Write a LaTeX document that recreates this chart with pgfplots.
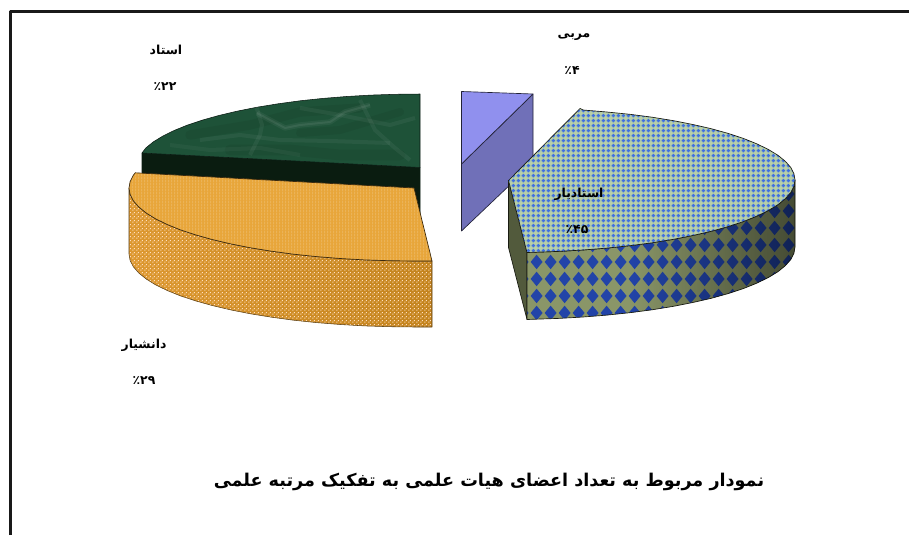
\documentclass[border=0pt]{standalone}
\usepackage{fontspec}
\usepackage{pgfplots}
\usepackage{pgfplotstable}
\pgfplotsset{compat=1.18}
\usetikzlibrary{patterns,fadings}
\TeXXeTstate=1
\newfontfamily\arabicfont[Script=Arabic,BoldFont={DejaVu Sans Bold}]{DejaVu Sans}
\definecolor{gtop}{HTML}{1E5238}
\definecolor{gside}{HTML}{0A1C10}
\definecolor{otop}{HTML}{E8A63A}
\definecolor{oside}{HTML}{DD9830}
\definecolor{osideb}{HTML}{C4841E}
\definecolor{ptop}{HTML}{9090EE}
\definecolor{pside}{HTML}{7070B8}
\definecolor{btop}{HTML}{B8D0A8}
\definecolor{bdot}{HTML}{4070E0}
\definecolor{bside}{HTML}{8A9668}
\definecolor{bdiam}{HTML}{2244A8}
\definecolor{bface}{HTML}{525A3C}
\pgfdeclarepatternformonly{dmd}{\pgfpointorigin}{\pgfqpoint{10.2pt}{12.4pt}}{\pgfqpoint{10.2pt}{12.4pt}}{%
  \pgfpathmoveto{\pgfqpoint{5.1pt}{0.6pt}}\pgfpathlineto{\pgfqpoint{9.7pt}{6.2pt}}%
  \pgfpathlineto{\pgfqpoint{5.1pt}{11.8pt}}\pgfpathlineto{\pgfqpoint{0.5pt}{6.2pt}}\pgfpathclose\pgfusepath{fill}}
\pgfdeclarepatternformonly{plusdot}{\pgfpointorigin}{\pgfqpoint{4pt}{4pt}}{\pgfqpoint{4pt}{4pt}}{%
  \pgfpathrectangle{\pgfqpoint{0.5pt}{1.35pt}}{\pgfqpoint{3pt}{1.3pt}}%
  \pgfpathrectangle{\pgfqpoint{1.35pt}{0.5pt}}{\pgfqpoint{1.3pt}{3pt}}\pgfusepath{fill}}
\pgfdeclarepatternformonly{odots}{\pgfpointorigin}{\pgfqpoint{3pt}{3pt}}{\pgfqpoint{3pt}{3pt}}{%
  \pgfpathrectangle{\pgfqpoint{0.3pt}{0.3pt}}{\pgfqpoint{0.95pt}{0.95pt}}%
  \pgfpathrectangle{\pgfqpoint{1.8pt}{1.8pt}}{\pgfqpoint{0.95pt}{0.95pt}}\pgfusepath{fill}}
\pgfdeclarepatternformonly{ostripe}{\pgfpointorigin}{\pgfqpoint{2.2pt}{2pt}}{\pgfqpoint{2.2pt}{2pt}}{%
  \pgfpathrectangle{\pgfqpoint{0pt}{0pt}}{\pgfqpoint{0.9pt}{2pt}}\pgfusepath{fill}}
\pgfplotstableread{
x y
580 108.5
583 110
606.8 112
629.9 114.3
652 117.2
673 120.6
692.8 124.5
711.2 128.7
728.1 133.4
743.3 138.4
756.7 143.8
768.2 149.4
777.8 155.2
785.2 161.2
790.7 167.4
793.9 173.7
795 180
793.9 186.3
790.7 192.6
785.2 198.8
777.8 204.8
768.2 210.6
756.7 216.2
743.3 221.6
728.1 226.6
711.2 231.3
692.8 235.5
673 239.4
652 242.8
629.9 245.7
606.8 248.1
583 250
558.7 251.4
527 252.5
508.5 180.5
}\bluetop
\pgfplotstableread{
x y
795 180
793.9 186.3
790.7 192.6
785.2 198.8
777.8 204.8
768.2 210.6
756.7 216.2
743.3 221.6
728.1 226.6
711.2 231.3
692.8 235.5
673 239.4
652 242.8
629.9 245.7
606.8 248.1
583 250
558.7 251.4
527 252.5
527 319.5
558.7 318.4
583 317
606.8 315.1
629.9 312.7
652 309.8
673 306.4
692.8 302.5
711.2 298.3
728.1 293.6
743.3 288.6
756.7 283.2
768.2 277.6
777.8 271.8
785.2 265.8
790.7 259.6
793.9 253.3
795 247
}\blueside
\pgfplotstableread{
x y
795 180
793.9 186.3
790.7 192.6
785.2 198.8
777.8 204.8
768.2 210.6
756.7 216.2
743.3 221.6
728.1 226.6
711.2 231.3
692.8 235.5
673 239.4
652 242.8
629.9 245.7
629.9 312.7
652 309.8
673 306.4
692.8 302.5
711.2 298.3
728.1 293.6
743.3 288.6
756.7 283.2
768.2 277.6
777.8 271.8
785.2 265.8
790.7 259.6
793.9 253.3
795 247
}\bluesideshade
\pgfplotstableread{
x y
508.5 180.5
527 252.5
527 319.5
508.5 247.5
}\blueface
\pgfplotstableread{
x y
461.5 91.5
533 94
461.5 164
}\purpletop
\pgfplotstableread{
x y
533 94
533 163
461.5 231
461.5 164
}\purpleside
\pgfplotstableread{
x y
420 94
395.2 94.3
370.7 95.1
346.5 96.5
322.9 98.4
300 100.8
278 103.8
257.1 107.2
237.4 111.1
219.2 115.4
202.4 120.1
187.4 125.1
174.1 130.5
162.6 136.2
153.1 142
145.7 148.1
142 153
420 167.5
}\greentop
\pgfplotstableread{
x y
142 153
420 167.5
420 235
142 220
}\greenside
\pgfplotstableread{
x y
135.2 172.8
133.3 175.3
130.1 181.6
129 188
130.1 194.4
133.3 200.7
138.7 206.9
146.2 213
155.7 218.9
167.2 224.5
180.5 229.9
195.7 234.9
212.5 239.6
230.8 243.9
250.5 247.8
271.5 251.2
293.6 254.2
316.5 256.6
340.2 258.5
364.5 259.9
389.1 260.7
414 261
432 261
414 188
}\orangetop
\pgfplotstableread{
x y
129 188
130.1 194.4
133.3 200.7
138.7 206.9
146.2 213
155.7 218.9
167.2 224.5
180.5 229.9
195.7 234.9
212.5 239.6
230.8 243.9
250.5 247.8
271.5 251.2
293.6 254.2
316.5 256.6
340.2 258.5
364.5 259.9
389.1 260.7
414 261
432 261
432 327
414 327
389.1 326.7
364.5 325.9
340.2 324.5
316.5 322.6
293.6 320.2
271.5 317.2
250.5 313.8
230.8 309.9
212.5 305.6
195.7 300.9
180.5 295.9
167.2 290.5
155.7 284.9
146.2 279
138.7 272.9
133.3 266.7
130.1 260.4
129 254
}\orangeside
\begin{document}
\begin{tikzpicture}
\useasboundingbox (0,0) rectangle (681.75pt,401.25pt);
\begin{axis}[
  at={(0,0)}, anchor=south west,
  width=681.75pt, height=401.25pt, scale only axis,
  xmin=0, xmax=909, ymin=0, ymax=535, y dir=reverse,
  hide axis, no marks, clip=true,
  every axis plot/.append style={line join=round},
]
% frame
\addplot[draw=black!90, line width=2pt] coordinates {(10.5,535) (10.5,11.5) (909,11.5)};
% green slice
\addplot[fill=gside, draw=gside, line width=0.4pt] table {\greenside} --cycle;
\addplot[fill=gtop, draw=black!70!gtop, line width=0.4pt] table {\greentop} --cycle;
\addplot[draw=black, opacity=0.06, line width=7pt, line cap=round] coordinates {(190,135) (250,125) (300,112) (360,108)};
\addplot[draw=black, opacity=0.06, line width=8pt, line cap=round] coordinates {(230,150) (290,150) (340,155) (400,155)};
\addplot[draw=black, opacity=0.06, line width=6pt, line cap=round] coordinates {(300,133) (340,130) (400,112)};
\addplot[draw=white, opacity=0.05, line width=4pt] coordinates {(257,113) (270,120) (285,128) (300,125) (330,122) (345,112) (370,105)};
\addplot[draw=white, opacity=0.07, line width=1.5pt] coordinates {(257,113) (270,120) (285,128) (300,125) (330,122) (345,112) (370,105)};
\addplot[draw=white, opacity=0.05, line width=3pt] coordinates {(255,103) (258,112) (262,125) (260,135) (250,155)};
\addplot[draw=white, opacity=0.05, line width=3pt] coordinates {(200,140) (240,135) (280,140) (330,141) (390,143)};
\addplot[draw=white, opacity=0.05, line width=3pt] coordinates {(300,108) (340,115) (390,125) (415,118)};
\addplot[draw=white, opacity=0.05, line width=3pt] coordinates {(360,100) (365,110) (375,130) (395,148) (410,160)};
\addplot[draw=white, opacity=0.04, line width=3pt] coordinates {(170,145) (210,150) (260,148) (300,155)};
% orange slice
\addplot[left color=oside, right color=osideb, draw=none] table {\orangeside} --cycle;
\addplot[pattern=odots, pattern color=orange!25!white, draw=black!60!oside, line width=0.4pt] table {\orangeside} --cycle;
\addplot[fill=otop, draw=none] table {\orangetop} --cycle;
\addplot[pattern=ostripe, draw=black!75!otop, line width=0.5pt, pattern color=otop!85!white] table {\orangetop} --cycle;
% purple slice
\addplot[fill=pside, draw=black!70!pside, line width=0.5pt] table {\purpleside} --cycle;
\addplot[fill=ptop, draw=black!70!pside, line width=0.5pt] table {\purpletop} --cycle;
% blue slice
\addplot[fill=bface, draw=black!70!bface, line width=0.5pt] table {\blueface} --cycle;
\addplot[fill=bside, draw=none] table {\blueside} --cycle;
\addplot[pattern=dmd, pattern color=bdiam, draw=black!70!bface, line width=0.5pt] table {\blueside} --cycle;
\addplot[fill=black, fill opacity=0.5, draw=none, path fading=west] table {\bluesideshade} --cycle;
\addplot[fill=btop, draw=none] table {\bluetop} --cycle;
\addplot[pattern=plusdot, pattern color=bdot, draw=black!70!bface, line width=0.5pt] table {\bluetop} --cycle;
% labels
\tikzset{lab/.style={font=\arabicfont\bfseries\fontsize{9.3}{11}\selectfont, inner sep=0pt, anchor=center}}
\node[lab] at (axis cs:574,37) {\beginR مربی\endR};
\node[lab] at (axis cs:572,70) {\beginR\beginL ۴\endL ٪\endR};
\node[lab] at (axis cs:166,50) {\beginR استاد\endR};
\node[lab] at (axis cs:165,87) {\beginR\beginL ۲۲\endL ٪\endR};
\node[lab] at (axis cs:579,194) {\beginR استادیار\endR};
\node[lab] at (axis cs:577,230) {\beginR\beginL ۴۵\endL ٪\endR};
\node[lab] at (axis cs:144,345) {\beginR دانشیار\endR};
\node[lab] at (axis cs:144,381) {\beginR\beginL ۲۹\endL ٪\endR};
\node[inner sep=0pt, anchor=center, font=\arabicfont\bfseries\fontsize{13.2}{15}\selectfont] at (axis cs:489,482) {\beginR نمودار مربوط به تعداد اعضای هیات علمی به تفکیک مرتبه علمی\endR};
\end{axis}
\end{tikzpicture}
\end{document}
